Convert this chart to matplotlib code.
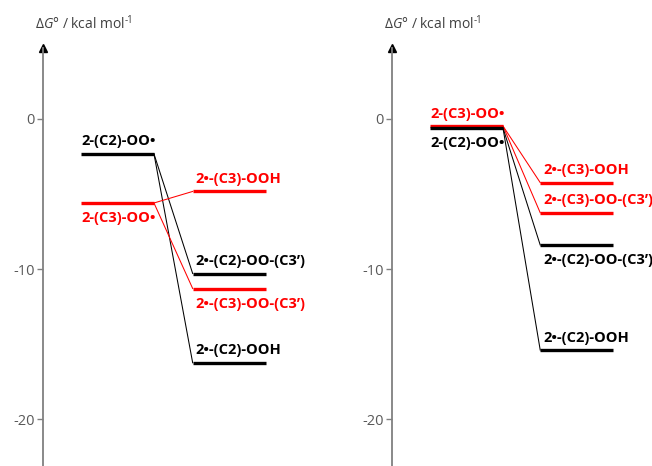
import matplotlib.pyplot as plt

plt.rcParams['font.family'] = ['Open Sans', 'DejaVu Sans']
plt.rcParams['mathtext.fontset'] = 'custom'
plt.rcParams['mathtext.rm'] = 'Open Sans'
plt.rcParams['mathtext.it'] = 'Open Sans:italic'

# energies in kcal/mol
left_reactants = ['2-(C2)-OO•', '2-(C3)-OO•']
left_reactant_G = [-2.33, -5.6]
left_reactant_col = ['black', 'red']
left_reactant_pos = ['above', 'below']

left_products = ['2•-(C3)-OOH', '2•-(C2)-OO-(C3’)', '2•-(C3)-OO-(C3’)', '2•-(C2)-OOH']
left_product_G = [-4.83, -10.3, -11.3, -16.25]
left_product_col = ['red', 'black', 'red', 'black']
left_product_pos = ['above', 'above', 'below', 'above']

right_reactants = ['2-(C3)-OO•', '2-(C2)-OO•']
right_reactant_G = [-0.47, -0.6]
right_reactant_col = ['red', 'black']
right_reactant_pos = ['above', 'below']

right_products = ['2•-(C3)-OOH', '2•-(C3)-OO-(C3’)', '2•-(C2)-OO-(C3’)', '2•-(C2)-OOH']
right_product_G = [-4.24, -6.25, -8.4, -15.4]
right_product_col = ['red', 'red', 'black', 'black']
right_product_pos = ['above', 'above', 'below', 'above']

yticks = [0, -10, -20]
ylabel = r'$\Delta G$° / kcal mol'

W, H = 652, 466
fig = plt.figure(figsize=(W / 100, H / 100), dpi=100)

grey = '#808080'


def panel(ax_left_px, reactants, rG, rcol, rpos, products, pG, pcol, ppos, prod_x0):
    ax = fig.add_axes([ax_left_px / W, 0, 257 / W, 1 - 48 / H])
    ax.set_xlim(-0.52, 3.0)
    ax.set_ylim(-23.13, 4.73)
    for s in ['top', 'right', 'bottom']:
        ax.spines[s].set_visible(False)
    ax.spines['left'].set_color(grey)
    ax.spines['left'].set_linewidth(1.3)
    ax.set_xticks([])
    ax.set_yticks(yticks)
    ax.set_yticklabels([str(t) for t in yticks])
    ax.tick_params(axis='y', colors=grey, labelcolor='#595959', labelsize=10.5,
                   length=4, width=1, direction='out', pad=2)
    # arrow head on top of the axis
    ax.plot(0, 1, marker='^', color='black', markersize=6, transform=ax.transAxes,
            clip_on=False)

    # connectors
    for g, c in zip(rG, rcol):
        for pg, pc in zip(pG, pcol):
            if pc == c:
                ax.plot([1, prod_x0], [g, pg], color=c, lw=0.75, zorder=1)
    # levels
    for name, g, c, pos in zip(reactants, rG, rcol, rpos):
        ax.plot([0, 1], [g, g], color=c, lw=2.4, solid_capstyle='butt', zorder=3)
        off = 9 if pos == 'above' else -11
        ax.annotate(name, (0, g), xytext=(0, off), textcoords='offset points',
                    color=c, fontsize=10.5, fontweight='bold', ha='left', va='center')
    for name, g, c, pos in zip(products, pG, pcol, ppos):
        ax.plot([prod_x0, prod_x0 + 1], [g, g], color=c, lw=2.4, solid_capstyle='butt',
                zorder=3)
        off = 9 if pos == 'above' else -11
        ax.annotate(name, (prod_x0, g), xytext=(2, off), textcoords='offset points',
                    color=c, fontsize=10.5, fontweight='bold', ha='left', va='center')

    t = fig.text((ax_left_px - 8) / W, 1 - 25 / H, ylabel, fontsize=10, color='#404040',
                 ha='left', va='center')
    # superscript with a plain hyphen like the original
    ax.annotate('-1', xy=(1, 0.45), xycoords=t, xytext=(0, 0), textcoords='offset points',
                fontsize=7, color='#404040', ha='left', va='bottom')
    return ax


panel(43, left_reactants, left_reactant_G, left_reactant_col, left_reactant_pos,
      left_products, left_product_G, left_product_col, left_product_pos, 1.53)
panel(392, right_reactants, right_reactant_G, right_reactant_col, right_reactant_pos,
      right_products, right_product_G, right_product_col, right_product_pos, 1.51)

fig.savefig('out.png', dpi=100)
